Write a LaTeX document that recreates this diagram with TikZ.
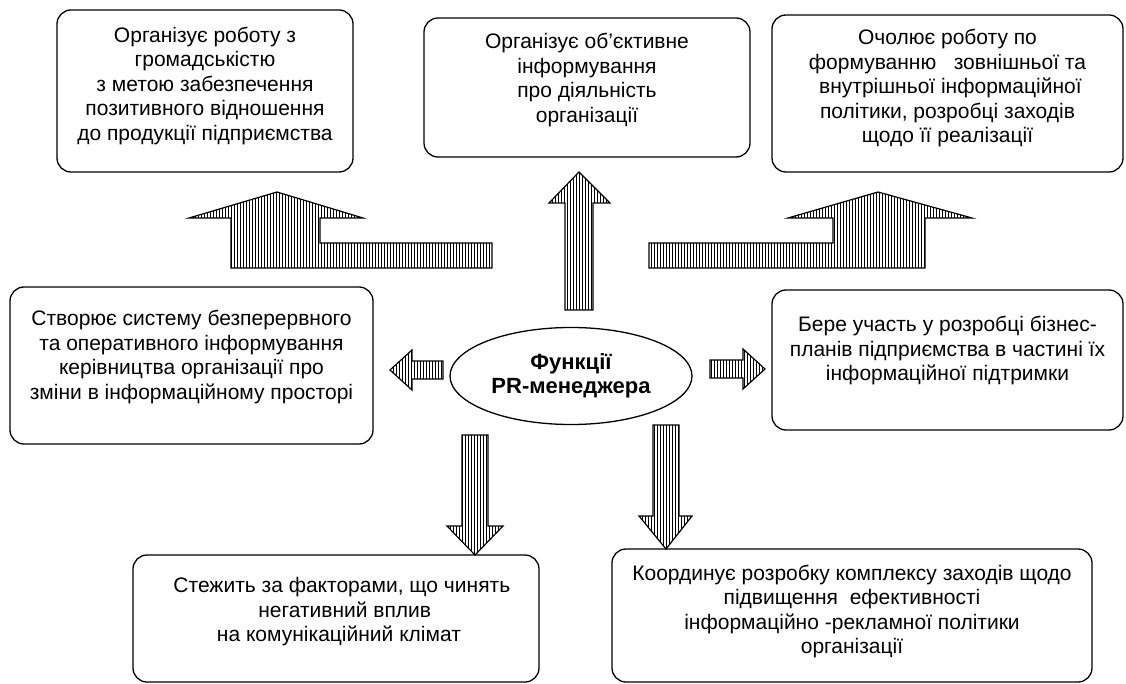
\documentclass[tikz,border=0pt]{standalone}
\usepackage{fontspec}
\setmainfont{Liberation Sans}
\usetikzlibrary{shapes.geometric,patterns}

\newcommand{\lowpad}[1]{\rule[-#1]{0pt}{#1}}

\begin{document}
\begin{tikzpicture}[
x=1pt, y=-1pt,
box/.style={draw, rounded corners=14pt, line width=1.3pt, align=center, inner sep=0pt, font=\fontsize{21pt}{24.5pt}\selectfont},
hub/.style={draw, ellipse, line width=1.3pt, align=center, inner sep=0pt, font=\fontsize{22pt}{24pt}\selectfont\bfseries},
blk/.style={draw, line width=1.2pt, pattern=vertical lines, line join=miter}
]
\useasboundingbox (0,0) rectangle (1126,684);

\node[hub, minimum width=242pt, minimum height=97pt] (func) at (571,376) {Функції\\PR-менеджера};

\node[box, minimum width=296pt, minimum height=162pt] (publ) at (205,91) {Організує роботу з\\громадськістю\\з метою забезпечення\\позитивного відношення\\до продукції підприємства\lowpad{15pt}};
\node[box, minimum width=326pt, minimum height=139pt] (inform) at (587,87.5) {Організує об’єктивне\\інформування\\про діяльність\\організації\lowpad{19pt}};
\node[box, minimum width=351pt, minimum height=157pt] (policy) at (947.5,93.5) {Очолює роботу по\\формуванню \ \ зовнішньої та\\\ внутрішньої інформаційної\\політики, розробці заходів\\щодо її реалізації\lowpad{15pt}};
\node[box, minimum width=363pt, minimum height=157pt] (monitor) at (191.5,365.5) {Створює систему безперервного\\та оперативного інформування\\керівництва організації про\\зміни в інформаційному просторі\lowpad{21pt}};
\node[box, minimum width=351pt, minimum height=140pt] (plans) at (947.5,360) {Бере участь у розробці бізнес-\\планів підприємства в частині їх\\інформаційної підтримки\lowpad{23pt}};
\node[box, minimum width=406pt, minimum height=127pt] (factors) at (336,618.5) {\ \ Стежить за факторами, що чинять\\\ \ \ негативний вплив\\\ на комунікаційний клімат\lowpad{18pt}};
\node[box, minimum width=480pt, minimum height=133pt] (coord) at (852,615.5) {Координує розробку комплексу заходів щодо\\підвищення \ ефективності\\інформаційно -рекламної політики\\організації\lowpad{12pt}};

% block arrows
\draw[blk] (277,192) -- (363,218) -- (320,218) -- (320,243) -- (492,243) -- (492,268) -- (231,268) -- (231,218) -- (189,218) -- cycle;
\draw[blk] (878,192) -- (972,218) -- (925,218) -- (925,268) -- (649,268) -- (649,243) -- (833,243) -- (833,218) -- (788,218) -- cycle;
\draw[blk] (579,172) -- (610,203) -- (593,203) -- (593,310) -- (565,310) -- (565,203) -- (549,203) -- cycle;
\draw[blk] (390,370) -- (412,350) -- (412,361) -- (443,361) -- (443,379) -- (412,379) -- (412,390) -- cycle;
\draw[blk] (765,369) -- (743,349) -- (743,360) -- (710,360) -- (710,378) -- (743,378) -- (743,389) -- cycle;
\draw[blk] (475,555) -- (447,526) -- (462,526) -- (462,435) -- (488,435) -- (488,526) -- (503,526) -- cycle;
\draw[blk] (666,549) -- (639,516) -- (653,516) -- (653,425) -- (679,425) -- (679,516) -- (692,516) -- cycle;
\end{tikzpicture}
\end{document}
